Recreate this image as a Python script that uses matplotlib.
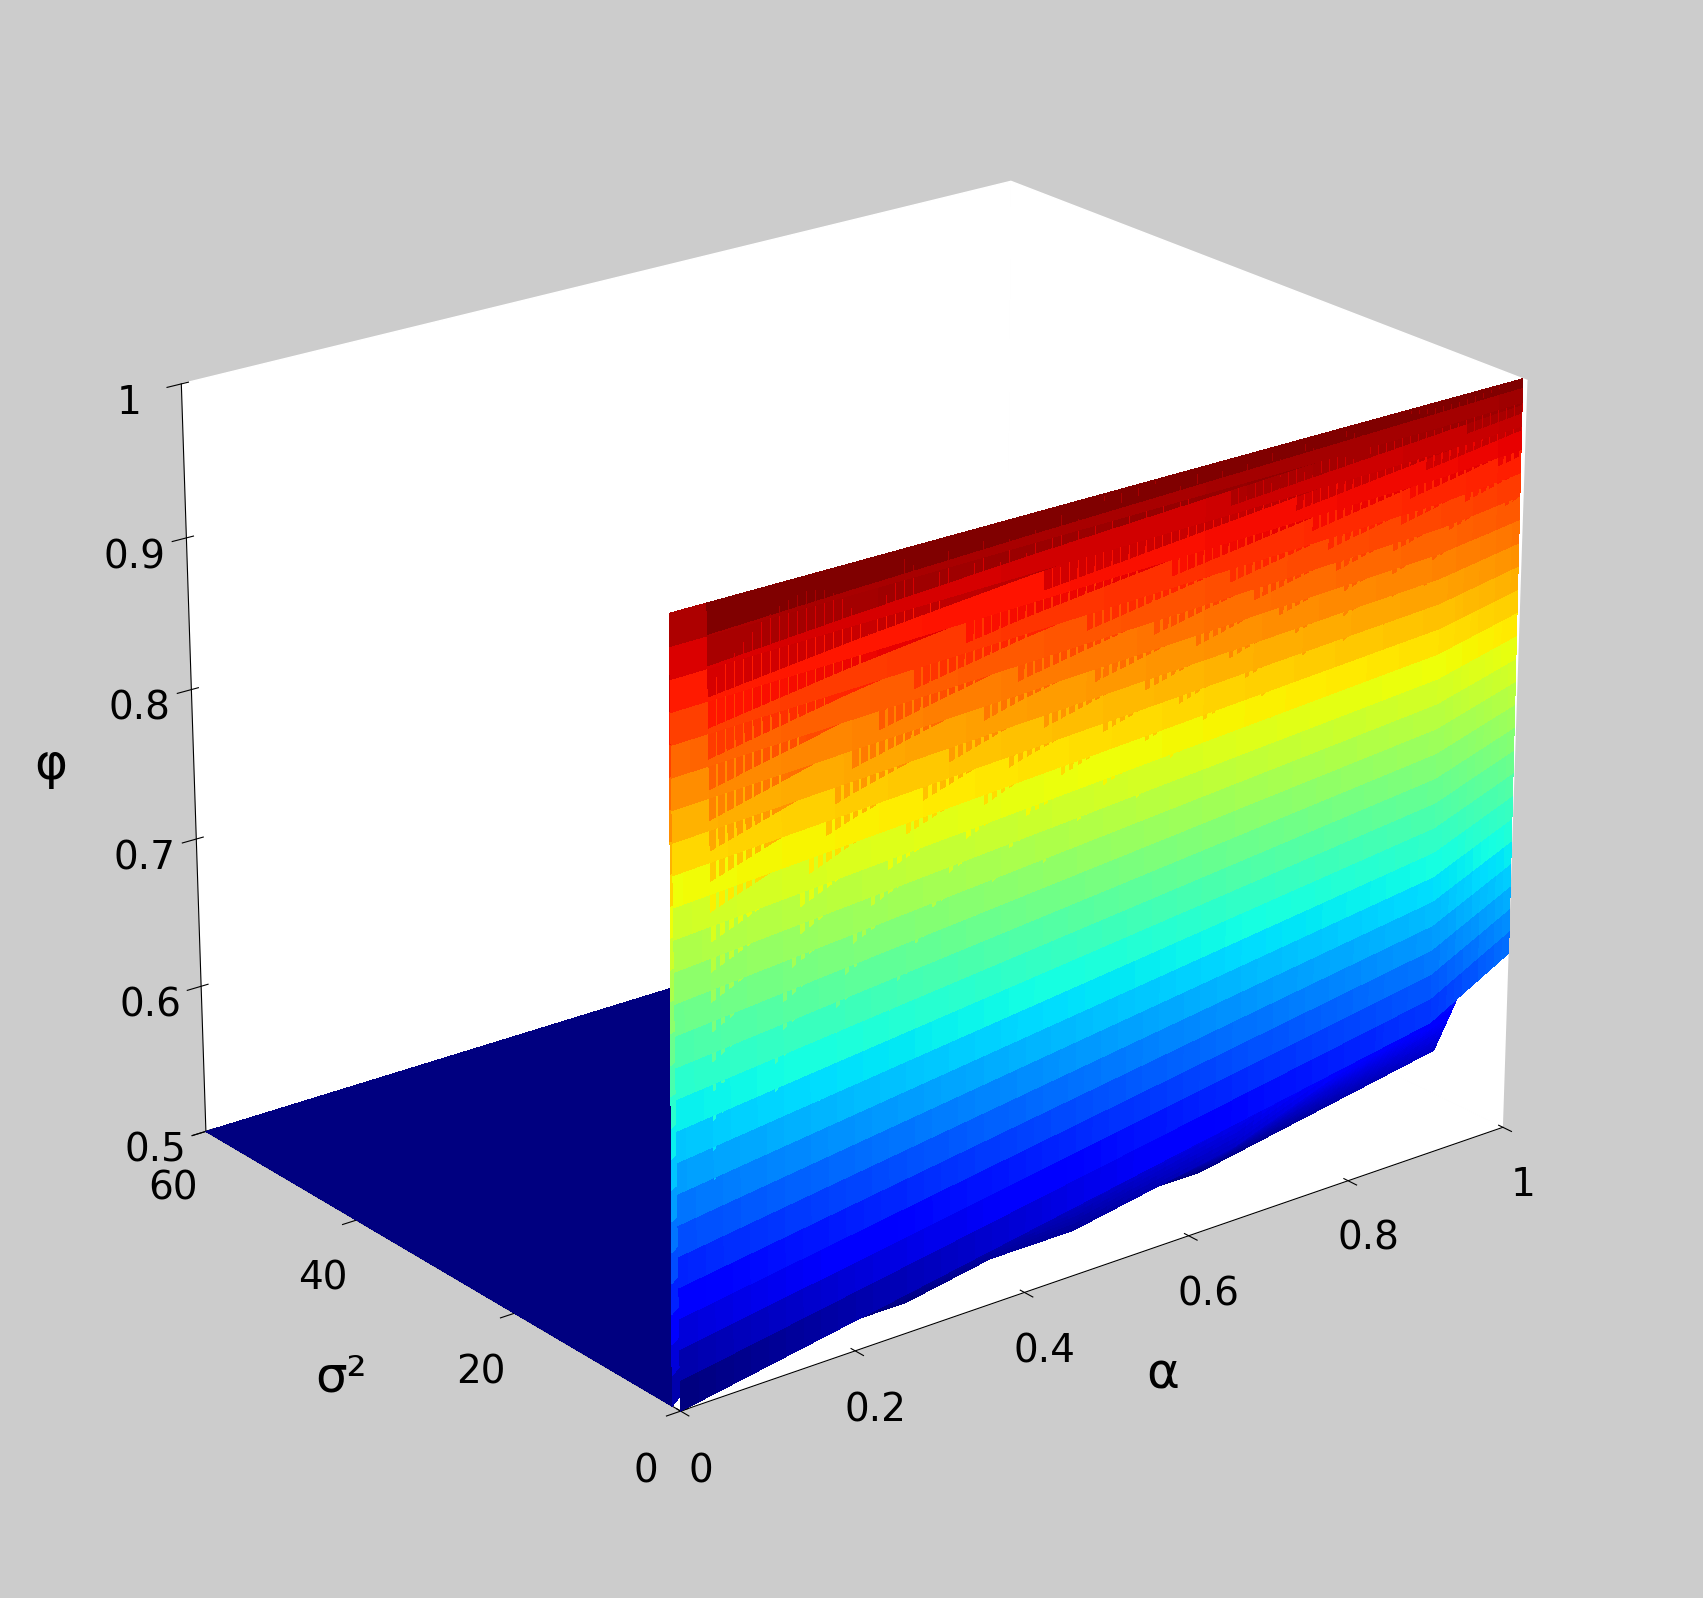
import numpy as np
import matplotlib
matplotlib.use("Agg")
import matplotlib.pyplot as plt

# grid
alpha = [0.0, 0.1, 0.2, 0.3, 0.4, 0.5, 0.6, 0.7, 0.8, 0.9, 1.0]
sigma2 = [0, 0.5, 1, 2, 4, 8, 15, 30, 60]
# phi[alpha][sigma2]
phi = [
    [0.50, 1.0, 0.50, 0.50, 0.50, 0.50, 0.50, 0.50, 0.50],
    [0.51, 1.0, 0.55, 0.51, 0.50, 0.50, 0.50, 0.50, 0.50],
    [0.52, 1.0, 0.60, 0.52, 0.50, 0.50, 0.50, 0.50, 0.50],
    [0.53, 1.0, 0.64, 0.54, 0.50, 0.50, 0.50, 0.50, 0.50],
    [0.54, 1.0, 0.68, 0.56, 0.51, 0.50, 0.50, 0.50, 0.50],
    [0.55, 1.0, 0.71, 0.58, 0.51, 0.50, 0.50, 0.50, 0.50],
    [0.56, 1.0, 0.74, 0.60, 0.52, 0.50, 0.50, 0.50, 0.50],
    [0.57, 1.0, 0.77, 0.62, 0.53, 0.50, 0.50, 0.50, 0.50],
    [0.58, 1.0, 0.80, 0.65, 0.55, 0.51, 0.50, 0.50, 0.50],
    [0.59, 1.0, 0.83, 0.68, 0.57, 0.52, 0.50, 0.50, 0.50],
    [0.62, 1.0, 0.86, 0.72, 0.60, 0.53, 0.51, 0.50, 0.50],
]

Z = np.array(phi)
a = np.array(alpha)
s = np.array(sigma2)

# finer grid only for smooth colour shading between the read values
ua = np.linspace(0, 1, 101)
k = 25
ut = np.linspace(0, len(s) - 1, (len(s) - 1) * k + 1)
us = np.interp(ut, np.arange(len(s)), s)
Za = np.array([np.interp(ua, a, Z[:, j]) for j in range(len(s))]).T
Zf = np.array([np.interp(ut, np.arange(len(s)), row) for row in Za])
A, S = np.meshgrid(ua, us, indexing="ij")

fig = plt.figure(figsize=(17.03, 15.98), dpi=100, facecolor="#cccccc")
ax = fig.add_axes([-0.01, 0.04, 1.0, 0.94], projection="3d")
ax.set_facecolor("#cccccc")
for pane in (ax.xaxis, ax.yaxis, ax.zaxis):
    pane.set_pane_color((1, 1, 1, 1))
ax.grid(False)

cols = plt.cm.jet((Zf - 0.5) / 0.5)
ax.plot_surface(A, S, Zf, facecolors=cols, linewidth=0, antialiased=False,
                shade=False, rstride=1, cstride=1)

ax.set_xlim(0, 1)
ax.set_ylim(0, 60)
ax.set_zlim(0.5, 1)
ax.set_xticks([0, 0.2, 0.4, 0.6, 0.8, 1])
ax.set_xticklabels(["0", "0.2", "0.4", "0.6", "0.8", "1"])
ax.set_yticks([0, 20, 40, 60])
ax.set_zticks([0.5, 0.6, 0.7, 0.8, 0.9, 1])
ax.set_zticklabels(["0.5", "0.6", "0.7", "0.8", "0.9", "1"])
ax.tick_params(labelsize=28, pad=14)
ax.xaxis.set_rotate_label(False)
ax.yaxis.set_rotate_label(False)
ax.zaxis.set_rotate_label(False)
ax.set_xlabel("α", fontsize=36, labelpad=40)
ax.set_ylabel("σ²", fontsize=36, labelpad=40)
ax.set_zlabel("φ", fontsize=36, labelpad=40)
ax.view_init(elev=22, azim=-128)
ax.set_box_aspect((1.3, 1.0, 1.0))

fig.savefig("out.png", dpi=100, facecolor=fig.get_facecolor())
